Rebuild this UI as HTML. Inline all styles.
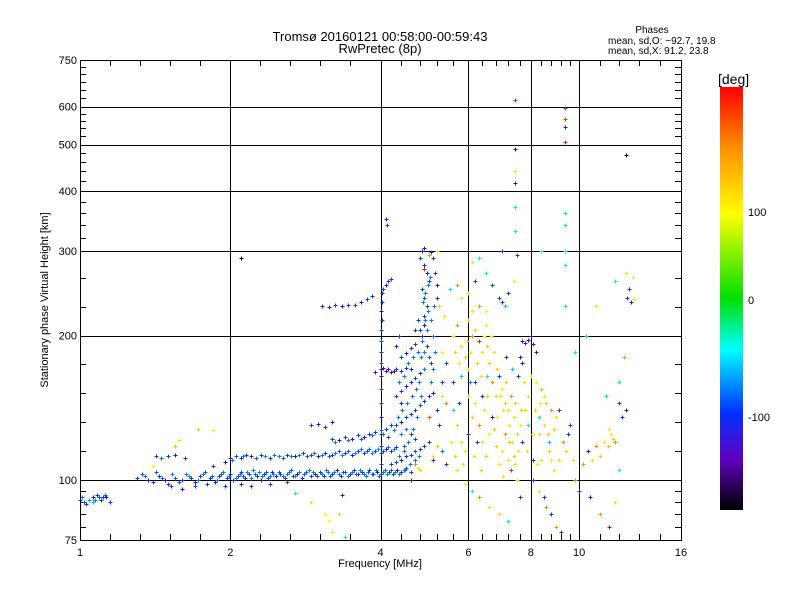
<!DOCTYPE html>
<html><head><meta charset="utf-8">
<style>
html,body{margin:0;padding:0;background:#fff;}
svg{display:block;font-family:"Liberation Sans","DejaVu Sans",sans-serif;}
</style></head>
<body>
<svg id="chart" width="800" height="600" viewBox="0 0 800 600" xmlns="http://www.w3.org/2000/svg">
<defs>
<linearGradient id="cbar" x1="0" y1="0" x2="0" y2="1">
<stop offset="0" stop-color="#ff0000"/>
<stop offset="0.14" stop-color="#ff8c00"/>
<stop offset="0.30" stop-color="#ffff00"/>
<stop offset="0.50" stop-color="#00e000"/>
<stop offset="0.62" stop-color="#00ffff"/>
<stop offset="0.77" stop-color="#0030ff"/>
<stop offset="0.88" stop-color="#6000c0"/>
<stop offset="1" stop-color="#000000"/>
</linearGradient>
</defs>
<text x="380" y="41" font-size="13" text-anchor="middle">Tromsø 20160121 00:58:00-00:59:43</text>
<text x="380" y="53" font-size="13" text-anchor="middle">RwPretec (8p)</text>
<text x="652" y="33" font-size="10" text-anchor="middle">Phases</text>
<text x="608" y="44" font-size="10">mean, sd,O: −92.7, 19.8</text>
<text x="608" y="54" font-size="10">mean, sd,X:  91.2, 23.8</text>
<text x="380" y="567" font-size="11" text-anchor="middle">Frequency [MHz]</text>
<text transform="translate(48,300) rotate(-90)" font-size="11" text-anchor="middle">Stationary phase Virtual Height [km]</text>
<g id="grid"></g>
<g id="ticks"></g>
<g id="points" shape-rendering="crispEdges"></g>
<rect x="80.5" y="60.5" width="601" height="480" fill="none" stroke="#000" stroke-width="1"/>
<rect x="720" y="87" width="23" height="423" fill="url(#cbar)"/>
<text x="718" y="84" font-size="14">[deg]</text>
<text x="748" y="216" font-size="11">100</text>
<text x="748" y="304" font-size="11">0</text>
<text x="748" y="421" font-size="11">-100</text>
</svg>
<script>
const xTickValues = [1, 2, 4, 6, 8, 10, 16];
const xGridValues = [2, 4, 6, 8, 10];
const xMinorTicks = [1.149,1.32,1.516,1.741,2.297,2.639,3.031,3.482,4.4,4.8,5.2,5.6,6.4,6.8,7.2,7.6,8.4,8.8,9.2,9.6,11,12,13.2,14.5];
const yTickValues = [750, 600, 500, 400, 300, 200, 100, 75];
const yGridValues = [100, 200, 300, 400, 500, 600];
const yMinorTicks = [80,85,90,95,114.9,132,151.6,174.1,229.7,263.9,320,340,360,380,420,440,460,480,520,540,560,580,625,650,675,700,725];

const bandA = [[1.0,91,-100],[1.02,90,-90],[1.03,89,-100],[1.06,92,-110],[1.08,93,-100],[1.09,92,-90],[1.1,91,-100],[1.11,92,-100],[1.13,92,-110],[1.15,90,-100],[1.06,90,-60],[1.01,92,-80],[1.07,91,-80],[1.12,93,-90],[1.04,91,-70]];
const bandLow = [[1.3,101,-100],[1.33,103,-90],[1.37,100,-110],[1.4,99,-100],[1.44,102,-100],[1.48,100,-120],[1.5,98,-100],[1.55,101,-90],[1.6,100,-100],[1.63,103,-80],[1.67,101,-100],[1.7,99,-110],[1.74,102,-100],[1.78,104,-90],[1.82,101,-100],[1.86,99,-120],[1.9,102,-100],[1.93,104,-80],[1.97,101,-100],[2.0,103,-110],[2.03,100,-100],[2.07,102,-90],[2.1,104,-100],[2.14,101,-120],[2.18,103,-100],[2.22,105,-80],[2.26,102,-100],[2.3,100,-110],[2.34,103,-100],[2.38,101,-90],[2.42,104,-100],[2.47,102,-120],[2.52,103,-100],[2.57,101,-100],[2.62,104,-80],[2.67,102,-100],[2.72,103,-110],[2.78,101,-100],[2.84,104,-90],[2.9,102,-100],[2.96,103,-120],[3.02,104,-100],[3.08,102,-100],[3.14,104,-80],[3.2,103,-100],[3.27,105,-110],[3.34,102,-100],[3.4,104,-90],[3.47,103,-100],[3.54,105,-100],[3.6,103,-120],[3.67,104,-100],[3.74,102,-80],[3.8,105,-100],[3.87,103,-100],[3.94,104,-110],[4.0,103,-100],[4.08,105,-90],[4.16,104,-100],[4.24,103,-100],[4.32,105,-120],[4.4,104,-100],[4.5,106,-90],[4.6,104,-100],
[1.52,97,-100],[1.6,96,-110],[1.7,97,-90],[1.8,98,-100],[1.95,97,-100],[2.1,98,-120],[2.2,97,-100],[2.4,98,-100],[2.6,99,-90]];
const bandDense = [[1.35,102,-80],[1.42,104,-90],[1.46,101,-80],[1.53,103,-80],[1.58,99,-90],[1.65,102,-80],[1.72,100,-80],[1.76,103,-80],[1.84,102,-90],[1.88,100,-80],[1.92,103,-90],[1.99,102,-80],[2.05,101,-80],[2.09,103,-80],[2.12,102,-90],[2.16,104,-80],[2.2,101,-80],[2.24,103,-90],[2.28,104,-80],[2.32,102,-80],[2.36,104,-90],[2.4,102,-80],[2.44,103,-80],[2.5,104,-90],[2.55,102,-80],[2.6,103,-80],[2.65,105,-90],[2.7,102,-80],[2.75,104,-80],[2.81,103,-90],[2.87,105,-80],[2.93,104,-80],[2.99,102,-90],[3.05,103,-80],[3.11,105,-80],[3.17,102,-90],[3.23,104,-80],[3.3,103,-80],[3.37,104,-90],[3.44,102,-80],[3.5,104,-80],[3.57,103,-90],[3.64,105,-80],[3.7,103,-80],[3.77,104,-90],[3.84,103,-80],[3.91,105,-80],[3.97,102,-90],[4.04,104,-80],[4.12,103,-80],[4.2,105,-90],[4.28,104,-80],[4.36,103,-80],[4.45,105,-80],
[2.02,110,-80],[2.12,112,-80],[2.25,111,-90],[2.35,112,-80],[2.45,113,-80],[2.55,111,-90],[2.65,112,-80],[2.75,113,-80],[2.85,112,-90],[2.95,114,-80],[3.05,113,-80],[3.15,112,-90],[3.25,114,-80],[3.35,113,-80],[3.45,115,-90],[3.55,114,-80],[3.65,116,-80],[3.75,115,-90],[3.85,114,-80],[3.95,116,-80],[4.05,115,-90],[4.15,117,-80],[4.25,116,-80],
[3.25,120,-80],[3.45,121,-80],[3.65,122,-90],[3.85,124,-80],[4.05,125,-80],[4.15,123,-90],[4.25,127,-80]];
const bandUpper = [[1.85,107,-100],[1.95,109,-110],[2.0,111,-100],[2.05,112,-90],[2.1,111,-100],[2.15,113,-100],[2.2,112,-120],[2.3,113,-100],[2.4,111,-100],[2.5,112,-80],[2.6,113,-100],[2.7,112,-110],[2.8,114,-100],[2.9,113,-100],[3.0,112,-130],[3.1,114,-100],[3.2,113,-100],[3.3,115,-90],[3.4,114,-100],[3.5,113,-120],[3.6,115,-100],[3.7,114,-100],[3.8,116,-80],[3.9,115,-100],[4.0,114,-100],[4.1,116,-110],[4.2,115,-100],[4.3,117,-100],[4.45,118,-90],
[1.42,112,-100],[1.45,111,-80],[1.5,112,-100],[1.55,113,-110],[1.62,111,-100],[1.55,118,40],[1.58,121,60],[1.72,128,50],[1.85,127,70],[1.4,107,80],
[3.2,122,-100],[3.3,121,-110],[3.4,123,-100],[3.5,122,-130],[3.6,124,-100],[3.7,123,-110],[3.8,125,-100],[3.9,126,-100],[4.0,127,-90],[4.1,128,-100],[4.2,130,-100],
[2.9,130,-100],[3.0,131,-120],[3.1,129,-100],[3.2,132,-130],
[2.7,94,-30],[2.9,90,60],[3.1,85,80],[3.15,82,70],[3.2,78,90],[3.3,85,100],[3.35,93,-130],[3.4,76,-30]];
const traceF2 = [[4.0,108,-100],[4.0,118,-100],[4.01,125,-100],[4.0,135,-110],[4.0,145,-100],[4.01,155,-100],[4.0,165,-120],[4.0,175,-100],[4.0,185,-100],[4.01,195,-90],[4.0,205,-100],[4.02,215,-100],[4.0,225,-110],[4.02,235,-100],[4.03,245,-100],
[3.9,168,-130],[4.0,170,-120],[4.1,169,-130],[4.2,168,-120],[4.3,170,-100],[4.4,169,-100],[4.5,171,-100],[4.6,170,-110],[4.05,171,-130],[4.15,170,-120],[4.25,169,-130],
[3.05,230,-100],[3.15,229,-110],[3.25,231,-100],[3.35,230,-120],[3.45,231,-100],[3.55,232,-100],[3.65,235,-110],[3.75,238,-100],[3.85,242,-100],[4.05,250,-100],[4.1,255,-110],[4.15,260,-100],[4.2,262,-100],[4.1,350,-130],[4.12,340,-100]];
const clusterBlue = [[4.2,108,-100],[4.3,109,-100],[4.4,110,-110],[4.5,112,-100],[4.6,113,-100],[4.7,115,-90],[4.8,116,-100],[4.9,118,-100],[5.0,120,-100],
[4.3,130,-100],[4.4,132,-110],[4.5,135,-100],[4.6,137,-100],[4.7,140,-100],[4.8,143,-90],[4.9,146,-100],[5.0,150,-100],[5.1,152,-110],
[4.3,150,-100],[4.4,153,-100],[4.5,157,-110],[4.6,160,-100],[4.7,163,-100],[4.8,167,-100],
[4.4,180,-100],[4.5,184,-110],[4.6,188,-100],[4.7,192,-100],
[4.85,200,-100],[4.9,210,-110],[4.88,220,-100],[4.95,230,-100],[4.9,240,-90],[4.85,250,-100],[5.0,260,-100],[4.95,270,-110],[4.9,280,-100],[4.8,290,-100],[4.85,300,-120],[4.9,305,-110],[5.05,298,-100],[5.1,290,-100],[5.15,270,-100],[5.2,255,-110],[5.2,240,-100],[4.75,215,-100],[4.8,205,-100],[4.95,190,-100],[5.0,180,-90],[5.05,175,-100],[4.7,205,-100],
[4.3,190,-120],[4.35,200,-100],[4.4,145,-110],[4.6,125,-100],[4.7,122,-100],[5.2,140,-100],[5.3,160,-100],[5.25,130,-100],[5.4,175,-100],[5.1,110,-100],[5.3,115,-80],[5.4,108,-100],[4.6,100,-120],
[4.92,215,-80],[4.97,225,-80],[4.87,235,-80],[4.92,245,-80],[4.98,255,-80],[5.02,265,-80],[4.85,195,-80],[4.9,185,-80],[4.95,205,-80],[4.82,180,-80],[4.88,170,-80],[4.78,160,-80],[4.83,150,-80],[4.73,135,-80],[4.65,128,-80],[4.55,120,-80],[4.45,115,-80],[4.35,112,-80],[4.42,140,-80],[4.52,145,-80],[4.62,150,-80],[4.72,155,-80],[4.4,125,-80],[4.5,128,-80],[4.35,160,-80],[4.45,165,-80],[4.55,175,-80],[4.65,180,-80],[4.75,185,-80],[5.05,160,-80],[5.1,170,-80],[5.15,185,-80],[5.1,200,-80],[5.05,215,-80],[5.12,230,-80],[4.33,135,-80],[4.48,105,-80],[4.58,108,-80],[4.68,110,-80],[4.78,112,-80],
[4.7,108,130],[4.75,106,90],[4.8,105,100],[5.1,112,90],[5.2,118,100],[5.3,150,90],[5.4,145,130],[5.0,135,150],[5.3,185,80],[5.2,300,90],[5.0,295,130],[4.9,275,170],[5.25,230,100],[5.35,220,60]];
const clusterMixed = [[5.6,200,90],[5.7,210,130],[5.8,190,60],[5.9,180,100],[6.0,170,90],[6.1,200,130],[6.2,205,100],[6.3,195,170],[6.4,185,90],[6.5,210,60],[6.6,175,100],[6.7,160,130],[6.8,150,90],[6.9,165,-100],[7.0,155,60],[7.1,145,100],[7.2,140,90],[7.3,150,130],[7.4,135,60],[7.5,125,100],[7.6,130,90],[7.7,120,-100],[7.8,140,60],[7.9,150,90],[8.0,165,60],[8.2,160,80],[8.4,155,40],[8.6,145,100],[8.8,140,130],[9.0,135,90],
[5.6,140,-30],[5.7,130,100],[5.8,120,90],[5.9,115,60],[6.0,125,-100],[6.1,135,100],[6.2,145,90],[6.3,130,130],[6.4,120,60],[6.5,112,100],[6.6,125,90],[6.7,135,-130],[6.8,118,100],[6.9,108,90],[7.0,115,60],[7.1,125,130],[7.2,110,90],[7.3,105,170],[7.4,112,100],[7.5,100,90],[5.6,160,-100],[5.8,165,-60],[6.0,150,60],[6.2,160,-100],[6.4,150,-100],[5.7,105,60],[5.9,98,90],[6.1,95,-30],[6.3,92,130],[6.6,88,60],[6.9,85,90],[7.2,82,-30],[7.6,92,-100],[5.5,250,-30],[5.7,255,130],[6.0,245,90],[6.2,260,-100],[6.5,270,-30],[6.7,255,-100],[6.9,240,-100],[7.0,235,-100],[7.1,230,-60],[7.2,245,-100],[6.3,290,-30],[6.1,285,60],[7.0,300,-100],[6.1,225,90],[6.3,230,130],[6.5,225,90],[5.8,240,60],[6.0,215,90],
[5.65,185,100],[5.75,175,60],[5.95,195,90],[6.05,185,60],[6.25,175,100],[6.35,165,90],[6.45,200,60],[6.55,190,100],[6.65,200,90],[6.75,185,60],[6.85,170,100],[6.95,150,60],[7.05,140,90],[7.15,160,100],[7.25,130,60],[7.35,120,90],[7.45,145,100],[7.55,115,60],[7.65,140,100],[7.75,160,60],[5.55,120,90],[5.65,112,100],[5.85,108,60],[6.15,112,90],[6.35,105,100],[6.45,140,90],[6.55,150,60],[6.75,128,100],[6.85,135,90],[7.05,102,60],[7.25,120,100],[7.45,108,90],[7.85,115,60],[8.05,125,90],[8.15,140,100],[8.25,108,60],[8.35,145,90],[8.5,150,60],[8.65,125,100],[8.8,110,90],[5.75,145,-100],[6.05,160,-80],[6.25,120,-100],[6.55,165,-30],[7.15,180,-100],[7.35,170,-60],[7.55,165,-100],[7.9,130,-30],[8.1,110,-100],[8.3,135,-30],
[7.7,195,-130],[7.8,193,-130],[7.9,196,-120],[8.0,200,-130],[8.1,192,-130],[7.6,180,-120],[7.7,175,-130],[8.2,185,-130],
[8.1,100,-100],[8.3,95,90],[8.5,92,-100],[8.6,88,130],[8.8,85,-100],[9.0,80,130],[9.2,78,-100],[8.4,110,90],[8.7,115,100],[8.9,105,60],[9.1,110,90],[9.3,120,130],[9.5,125,-100],[9.6,130,-100],[9.4,115,100],[9.7,110,90],[9.8,100,130],[8.3,125,60],[8.5,130,90],[8.7,120,-60],[8.9,128,100],[9.1,140,-100]];
const clusterHigh = [[10.2,108,130],[10.4,115,-130],[10.6,110,90],[10.8,118,130],[11.0,112,100],[11.2,120,90],[11.4,118,100],[11.6,125,90],[11.7,122,100],[11.8,120,130],[11.5,128,90],[10.0,95,-100],[10.5,92,-130],[11.0,85,130],[11.5,80,-100],[11.8,90,60],[12.0,105,-30],[12.2,135,-100],[12.4,140,-130],[12.0,145,-100],[11.3,150,-30],[12.5,240,-100],[12.7,235,-130],[12.9,238,60],[12.6,250,-100],[12.4,270,90],[11.8,260,-30],[12.8,265,90],[12.3,180,130],[12.0,160,-30],
[7.45,620,170],[7.45,490,-150],[7.45,440,90],[7.45,415,-130],[7.45,370,-30],[7.45,330,-30],[7.5,295,-100],[7.4,260,90],[9.35,595,170],[9.35,565,160],[9.35,545,-130],[9.35,505,170],[9.35,360,-30],[9.35,340,-30],[9.35,300,-30],[9.35,280,-30],[9.35,230,-30],[12.4,475,-180],[2.1,290,-180],[8.4,300,-30],[9.8,185,-30],[10.3,200,-60],[10.8,230,90]];

const NS='http://www.w3.org/2000/svg';
const X0=80, X1=681, Y0=540, Y1=60;
function xScale(f){return X0+(X1-X0)*Math.log2(f)/4;}
function yScale(h){return Y0-(Y0-Y1)*Math.log10(h/75);}
const cStops=[[180,[255,0,0]],[130,[255,140,0]],[75,[255,255,0]],[0,[0,224,0]],[-45,[0,255,255]],[-85,[0,100,255]],[-110,[20,20,240]],[-140,[96,0,192]],[-180,[0,0,0]]];
function phaseColor(p){
  for(let i=0;i<cStops.length-1;i++){
    const a=cStops[i],b=cStops[i+1];
    if(p<=a[0]&&p>=b[0]){const t=(a[0]-p)/(a[0]-b[0]);
      const c=a[1].map((v,k)=>Math.round(v+(b[1][k]-v)*t));return 'rgb('+c.join(',')+')';}
  }
  return p>180?'rgb(255,0,0)':'rgb(0,0,0)';
}
function mk(tag,attrs,parent){const e=document.createElementNS(NS,tag);for(const k in attrs)e.setAttribute(k,attrs[k]);parent.appendChild(e);return e;}
const grid=document.getElementById('grid'), ticks=document.getElementById('ticks'), pts=document.getElementById('points');
xGridValues.forEach(v=>{const x=Math.round(xScale(v))+0.5;
  const l=mk('line',{x1:x,x2:x,y1:Y1,y2:Y0,stroke:'#000','stroke-width':1},grid);
  
  
});
yGridValues.forEach(v=>{const y=Math.round(yScale(v))+0.5;
  const l=mk('line',{x1:X0,x2:X1,y1:y,y2:y,stroke:'#000','stroke-width':1},grid);
  
  
});
xMinorTicks.concat(xTickValues).forEach(v=>{const x=Math.round(xScale(v))+0.5;
  const a=mk('line',{x1:x,x2:x,y1:Y0,y2:Y0-6,stroke:'#000'},ticks);
  
  
  const b=mk('line',{x1:x,x2:x,y1:Y1,y2:Y1+6,stroke:'#000'},ticks);
  
  
});
yMinorTicks.concat(yTickValues).forEach(v=>{const y=Math.round(yScale(v))+0.5;
  const a=mk('line',{x1:X0,x2:X0+6,y1:y,y2:y,stroke:'#000'},ticks);
  
  
  const b=mk('line',{x1:X1,x2:X1-6,y1:y,y2:y,stroke:'#000'},ticks);
  
  
});
xTickValues.forEach(v=>{const t=mk('text',{x:xScale(v),y:556,'font-size':11,'text-anchor':'middle'},ticks);t.textContent=v;
  
  
});
yTickValues.forEach(v=>{const t=mk('text',{x:77,y:yScale(v)+4,'font-size':11,'text-anchor':'end'},ticks);t.textContent=v;
  
  
});
[bandA,bandLow,bandDense,bandUpper,traceF2,clusterBlue,clusterMixed,clusterHigh].forEach(series=>{
  series.forEach(d=>{
    const x=Math.round(xScale(d[0]))+0.5, y=Math.round(yScale(d[1]))+0.5;
    const p=mk('path',{d:'M'+(x-2)+' '+y+'H'+(x+2)+'M'+x+' '+(y-2)+'V'+(y+2),stroke:phaseColor(d[2]),'stroke-width':1,fill:'none'},pts);
    
    
  });
});
</script>
</body></html>
